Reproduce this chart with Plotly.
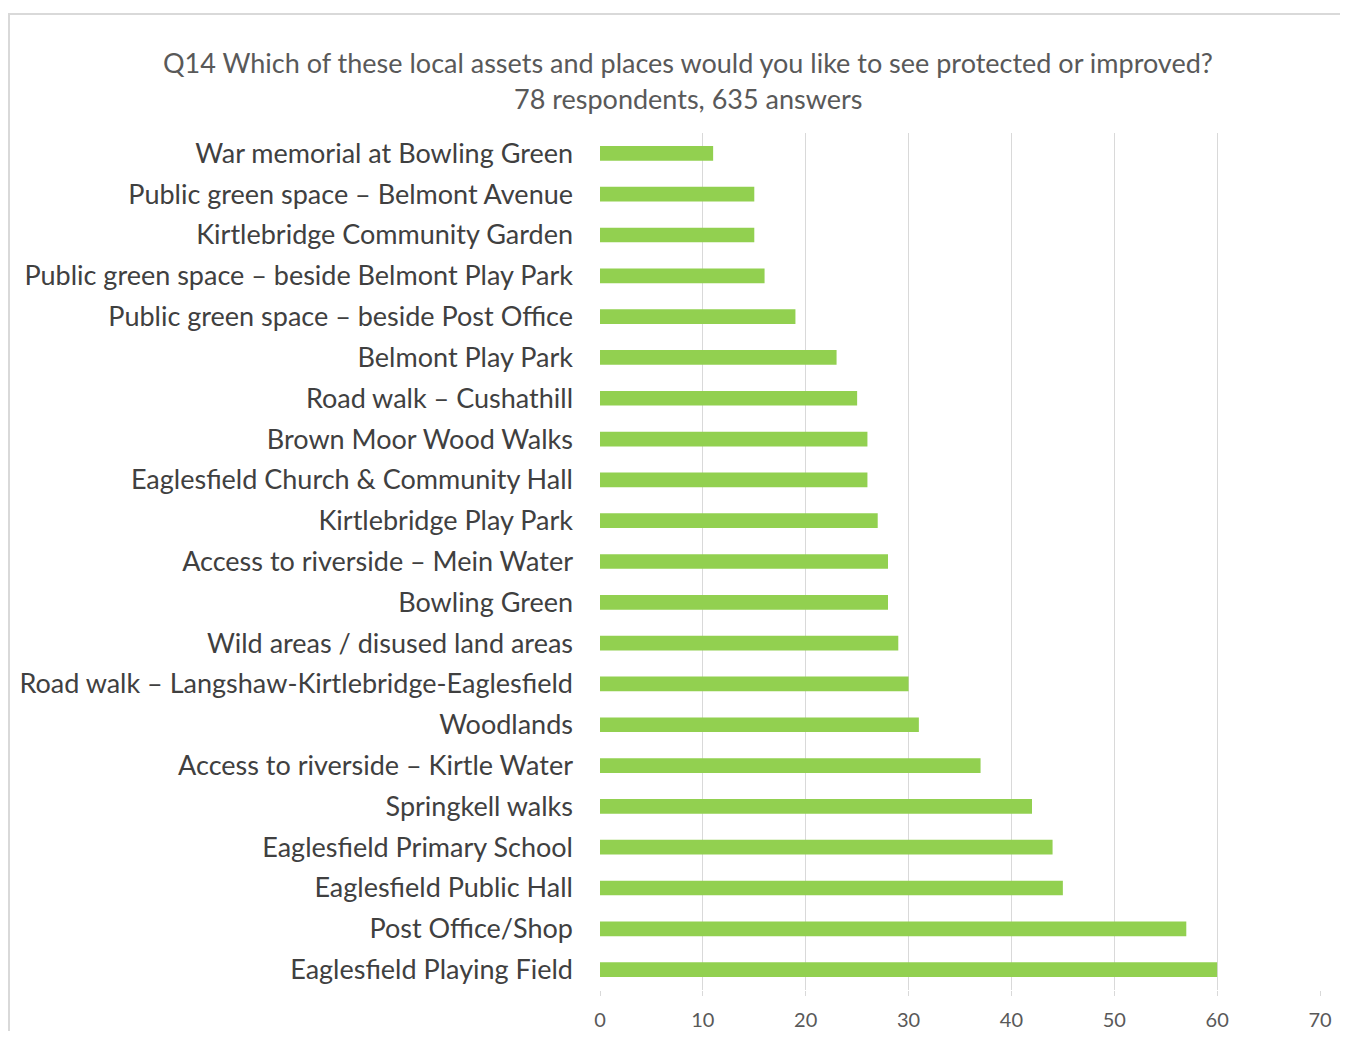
import plotly.graph_objects as go

categories = [
    "War memorial at Bowling Green",
    "Public green space – Belmont Avenue",
    "Kirtlebridge Community Garden",
    "Public green space – beside Belmont Play Park",
    "Public green space – beside Post Office",
    "Belmont Play Park",
    "Road walk – Cushathill",
    "Brown Moor Wood Walks",
    "Eaglesfield Church & Community Hall",
    "Kirtlebridge Play Park",
    "Access to riverside – Mein Water",
    "Bowling Green",
    "Wild areas / disused land areas",
    "Road walk – Langshaw-Kirtlebridge-Eaglesfield",
    "Woodlands",
    "Access to riverside – Kirtle Water",
    "Springkell walks",
    "Eaglesfield Primary School",
    "Eaglesfield Public Hall",
    "Post Office/Shop",
    "Eaglesfield Playing Field",
]
values = [11, 15, 15, 16, 19, 23, 25, 26, 26, 27, 28, 28, 29, 30, 31, 37, 42, 44, 45, 57, 60]
x_ticks = [0, 10, 20, 30, 40, 50, 60, 70]
title_line1 = "Q14 Which of these local assets and places would you like to see protected or improved?"
title_line2 = "78 respondents, 635 answers"

FONT = "Lato, Open Sans, sans-serif"
GRAY = "#595959"

fig = go.Figure(go.Bar(
    x=values, y=categories, orientation="h",
    marker=dict(color="#92D050", line=dict(width=0)),
))

OFF = 8  # page body margin
W, H = 1348 - OFF, 1039 - 2 * OFF
ML, MR, MT = 600 - OFF, 28, 133 - OFF
MB = H - (990 - OFF)
pw, ph = W - ML - MR, H - MT - MB

def px_to_paper_x(px):
    return (px - OFF - ML) / pw

def py_to_paper_y(py):
    return (H - MB - (py - OFF)) / ph

fig.update_layout(
    width=W, height=H,
    margin=dict(l=ML, r=MR, t=MT, b=MB, autoexpand=False),
    paper_bgcolor="white", plot_bgcolor="white",
    bargap=0.64,
    showlegend=False,
    font=dict(family=FONT, color=GRAY),
    xaxis=dict(
        range=[0, 70], tickvals=x_ticks, showgrid=True, gridcolor="#d9d9d9", gridwidth=1,
        zeroline=False, showline=False, ticks="outside", ticklen=5, tickcolor="#d9d9d9",
        tickfont=dict(size=20, color=GRAY, family=FONT), ticklabelstandoff=7, automargin=False,
    ),
    yaxis=dict(
        autorange="reversed", showgrid=False, zeroline=False, showline=False, ticks="",
        tickfont=dict(size=27, color="#404040", family=FONT), ticklabelstandoff=26, automargin=False,
    ),
    annotations=[
        dict(text=title_line1, x=px_to_paper_x(688), y=py_to_paper_y(62), xref="paper", yref="paper",
             xanchor="center", yanchor="middle", showarrow=False, font=dict(size=27, color=GRAY, family=FONT)),
        dict(text=title_line2, x=px_to_paper_x(688), y=py_to_paper_y(98), xref="paper", yref="paper",
             xanchor="center", yanchor="middle", showarrow=False, font=dict(size=27, color=GRAY, family=FONT)),
    ],
    shapes=[
        dict(type="rect", xref="paper", yref="paper",
             x0=px_to_paper_x(9), x1=px_to_paper_x(1360), y0=py_to_paper_y(1060), y1=py_to_paper_y(14),
             line=dict(color="#d9d9d9", width=2), fillcolor="rgba(0,0,0,0)", layer="below"),
    ],
)

fig.write_html("out.html")
